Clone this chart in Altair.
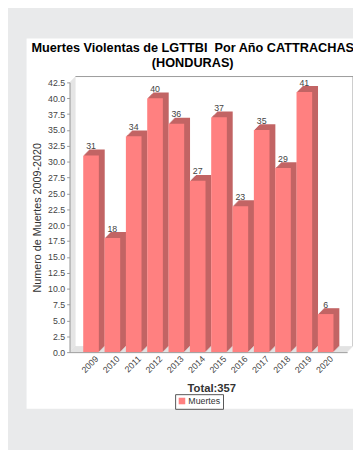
import altair as alt
import pandas as pd

# ---- data ----
YEARS = ["2009", "2010", "2011", "2012", "2013", "2014",
         "2015", "2016", "2017", "2018", "2019", "2020"]
DEATHS = [31, 18, 34, 40, 36, 27, 37, 23, 35, 29, 41, 6]
SERIES = "Muertes"
TITLE_LINES = ["Muertes Violentas de LGTTBI \u00a0Por Año CATTRACHAS", "(HONDURAS)"]
Y_TITLE = "Numero de Muertes 2009-2020"
X_TITLE = "Total:" + str(sum(DEATHS))
Y_TICKS = [0.0, 2.5, 5.0, 7.5, 10.0, 12.5, 15.0, 17.5, 20.0, 22.5,
           25.0, 27.5, 30.0, 32.5, 35.0, 37.5, 40.0, 42.5]

df = pd.DataFrame({"year": YEARS, "value": DEATHS, "series": [SERIES] * len(YEARS)})

# ---- layout / style ----
W, H, D = 284, 276, 6
FRONT = "#ff8080"
SIDE = "#c26464"
WALL = "#dcdcdc"
LINE = "#9a9a9a"
TXT = "#444444"
FONT = "Liberation Sans"
one = alt.Data(values=[{}])

panel = alt.Chart(one).mark_rect(color="white").encode(
    x=alt.value(-44), x2=alt.value(300), y=alt.value(-45), y2=alt.value(334))

walls = []
for k in range(D):
    walls.append(alt.Chart(one).mark_rect(color=WALL).encode(
        x=alt.value(k), x2=alt.value(k + 1),
        y=alt.value(-k - 0.5), y2=alt.value(H - k - 0.5)))
    walls.append(alt.Chart(one).mark_rect(color=WALL).encode(
        x=alt.value(k + 0.5), x2=alt.value(W + k + 0.5),
        y=alt.value(H - k - 1), y2=alt.value(H - k)))

back_top = alt.Chart(one).mark_rule(color=LINE, strokeWidth=1).encode(
    x=alt.value(D), x2=alt.value(W + D), y=alt.value(-D))
back_right = alt.Chart(one).mark_rule(color=LINE, strokeWidth=1).encode(
    x=alt.value(W + D), y=alt.value(-D), y2=alt.value(H - D))

xenc = alt.X("year:N", sort=YEARS,
             scale=alt.Scale(paddingInner=0.267, paddingOuter=0.64),
             axis=alt.Axis(title=X_TITLE, labelAngle=-45, labelAlign="right",
                           labelBaseline="middle", labelOffset=6, labelPadding=5,
                           ticks=False, domainColor=LINE, labelColor=TXT,
                           labelFont=FONT, labelFontSize=9,
                           titleFont=FONT, titleFontSize=11.5, titleFontWeight="bold",
                           titleColor="#333333", titleX=145, titleY=40,
                           titleBaseline="alphabetic", zindex=1))
yenc = alt.Y("value:Q",
             scale=alt.Scale(domain=[0, 42.5], nice=False, zero=True),
             axis=alt.Axis(title=Y_TITLE, values=Y_TICKS, format=".1f",
                           grid=False, tickSize=3, tickColor=LINE, domainColor=LINE,
                           labelColor=TXT, labelFont=FONT, labelFontSize=9,
                           labelPadding=2, titleFont=FONT, titleFontSize=11,
                           titleFontWeight="normal", titleColor="#333333",
                           titleX=-33, titleY=H / 2, titleAlign="center",
                           titleBaseline="middle", zindex=1))

base = alt.Chart(df).encode(x=xenc, y=yenc)

shadows = [base.mark_bar(color=SIDE, xOffset=k, x2Offset=k, yOffset=-k, y2Offset=-k)
           for k in range(1, D + 1)]

front = base.mark_bar().encode(
    color=alt.Color("series:N",
                    scale=alt.Scale(domain=[SERIES], range=[FRONT]),
                    legend=alt.Legend(title=None, orient="none", legendX=108, legendY=319,
                                      padding=2.5, strokeColor="#555555",
                                      symbolType="square", symbolSize=45,
                                      symbolStrokeWidth=0, symbolFillColor="#e06060",
                                      labelFont=FONT, labelFontSize=9, labelColor="#333333",
                                      labelOffset=2)))

labels = base.mark_text(dy=-6.5, baseline="alphabetic", font=FONT, fontSize=9,
                        color=TXT).encode(text="value:Q")

title1 = alt.Chart(one).mark_text(text=TITLE_LINES[0], font=FONT, fontSize=13,
                                  fontWeight="bold", color="black", align="center",
                                  baseline="alphabetic").encode(
    x=alt.value(126), y=alt.value(-31))
title2 = alt.Chart(one).mark_text(text=TITLE_LINES[1], font=FONT, fontSize=13,
                                  fontWeight="bold", color="black", align="center",
                                  baseline="alphabetic").encode(
    x=alt.value(126), y=alt.value(-16))

chart = alt.layer(panel, *walls, back_top, back_right, *shadows, front, labels,
                  title1, title2).properties(
    width=W, height=H,
    autosize=alt.AutoSizeParams(type="none"),
    padding={"left": 63, "top": 71, "right": 6, "bottom": 95},
    background="#e9eaeb",
).configure_view(strokeWidth=0)

chart.save("out.html", embed_options={"renderer": "svg", "actions": False})
